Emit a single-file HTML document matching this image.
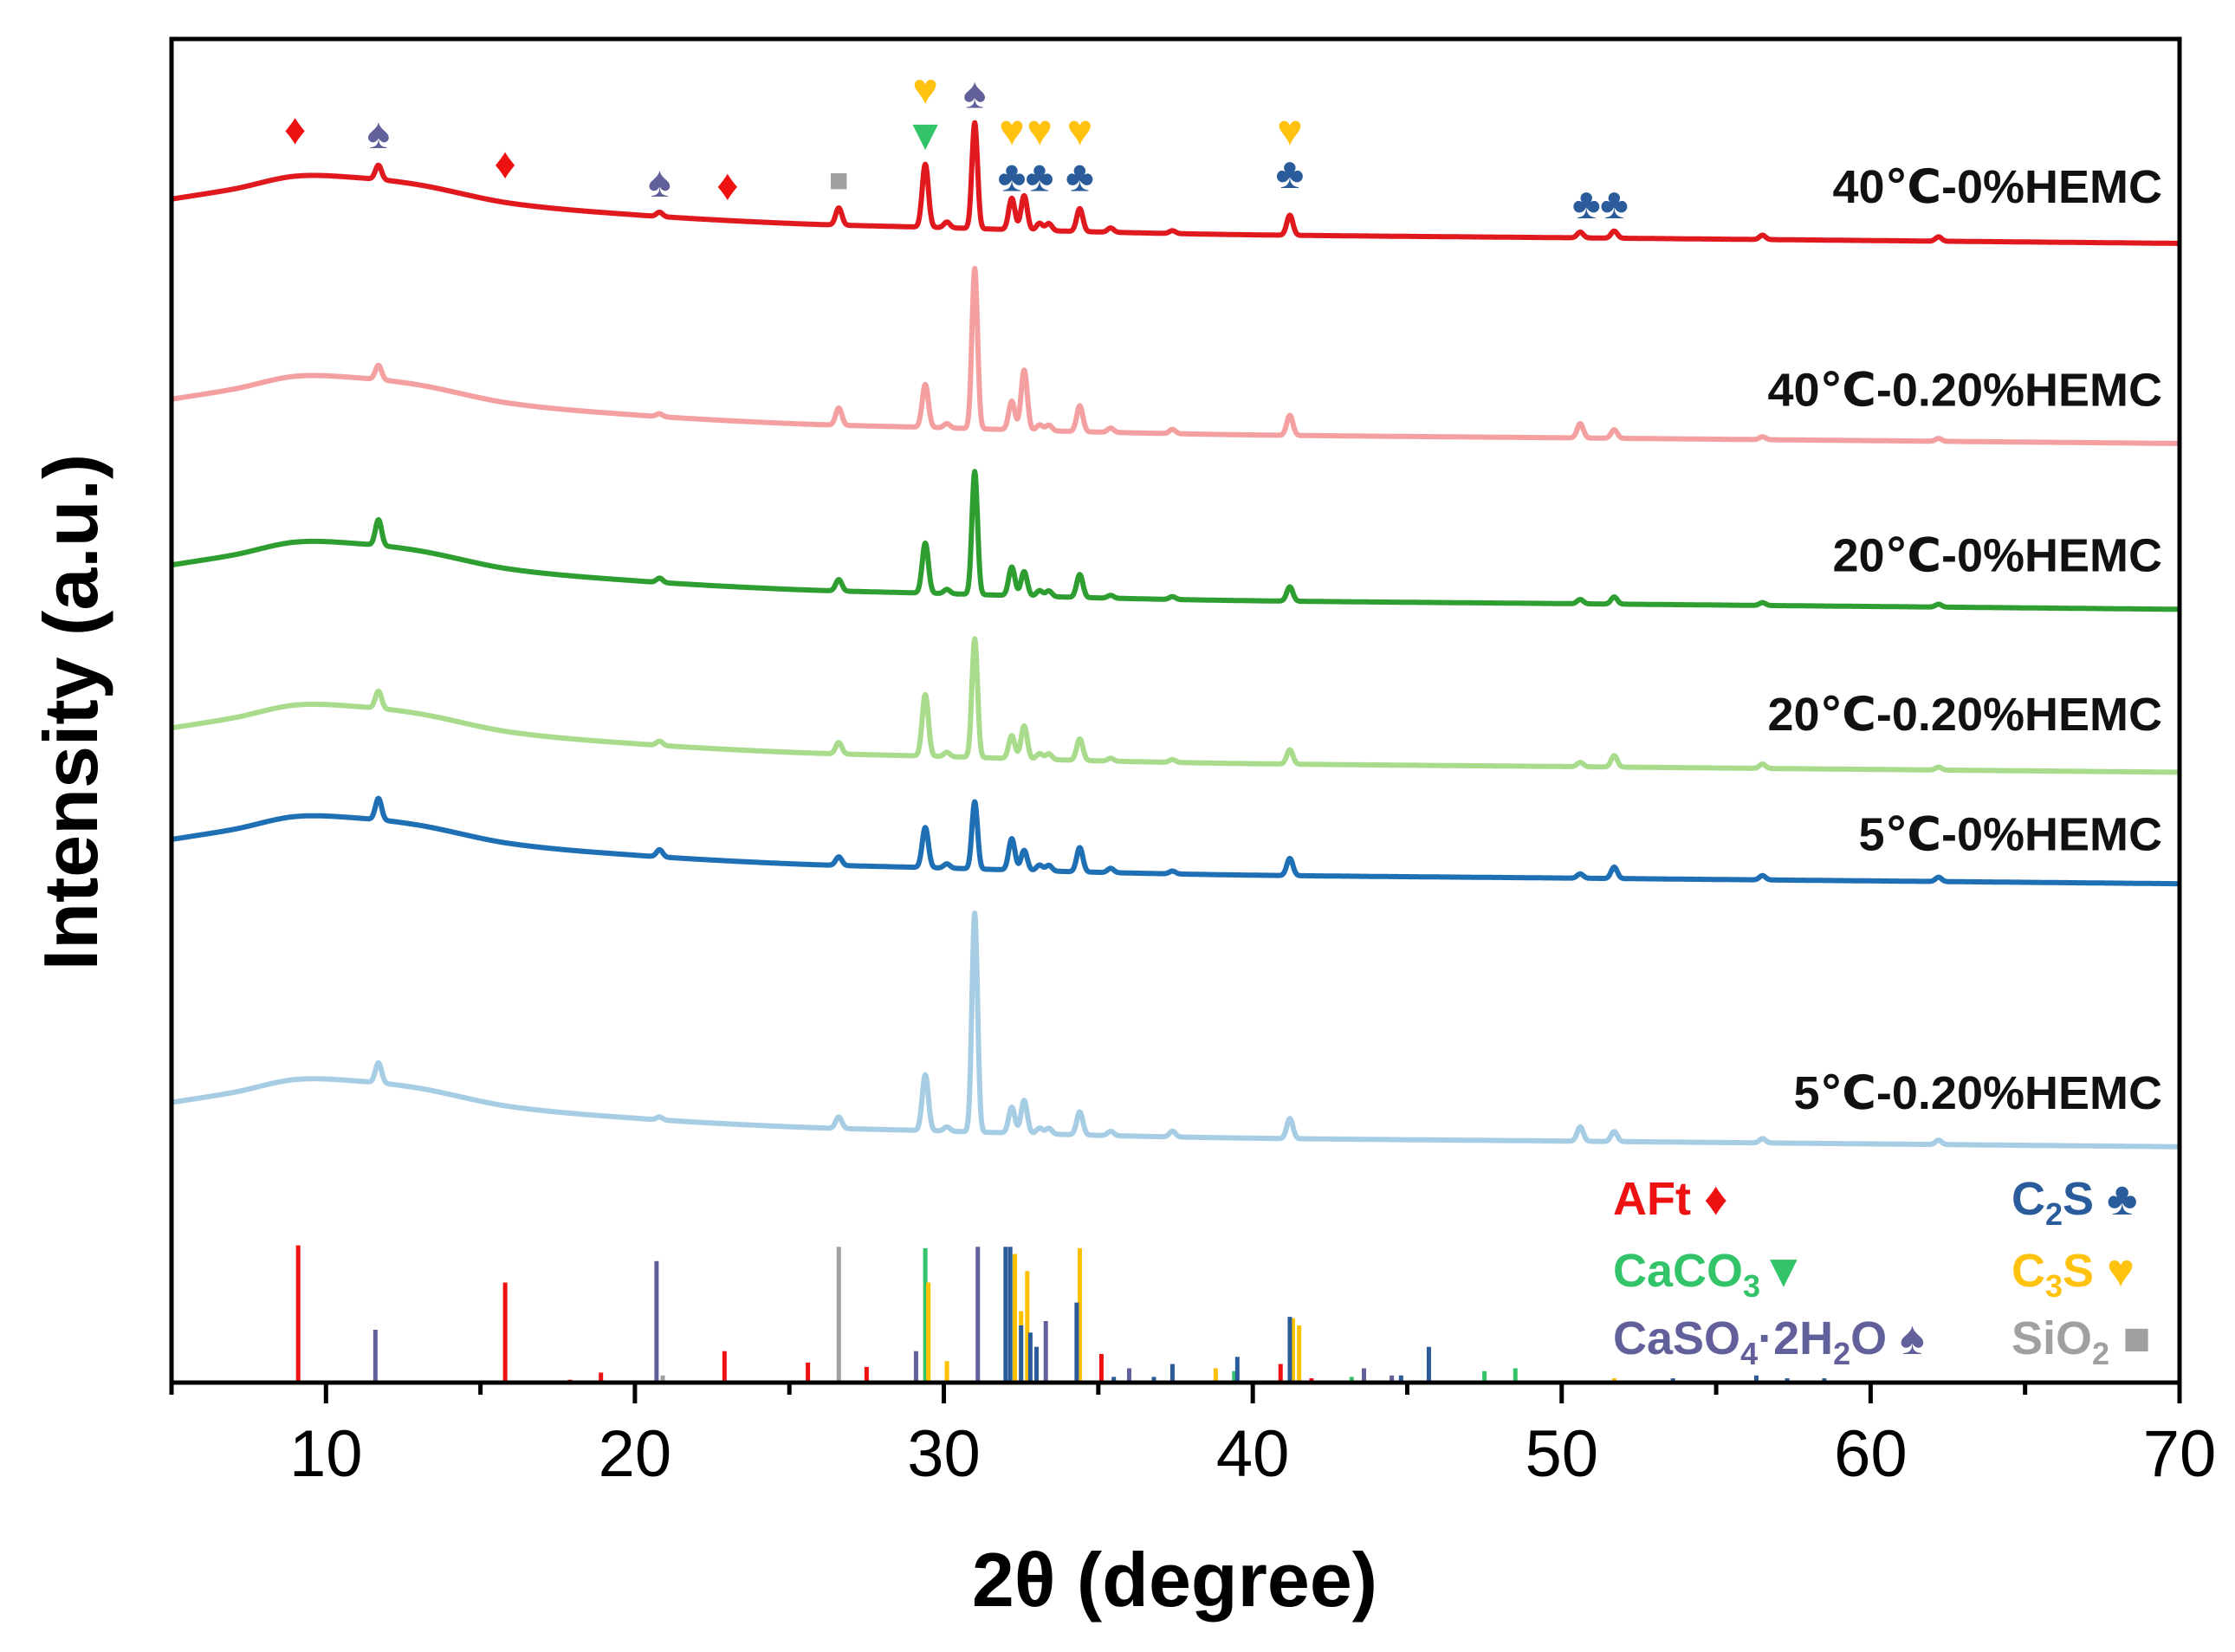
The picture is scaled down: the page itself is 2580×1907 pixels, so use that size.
<!DOCTYPE html>
<html><head><meta charset="utf-8"><style>
html,body{margin:0;padding:0;background:#fff}
svg{display:block}
text{font-family:"Liberation Sans","DejaVu Sans",sans-serif}
</style></head><body>
<svg id="chart" width="2580" height="1907" viewBox="0 0 2580 1907" xmlns="http://www.w3.org/2000/svg">
<g id="sticks"></g>
<g id="series"></g>
<g id="marks"></g>
<g id="labels"></g>
<g id="axes"></g>
<g id="legend" font-weight="bold" font-size="54">
 <text x="1862" y="1402" fill="#ee1111">AFt ♦</text>
 <text x="1862" y="1485" fill="#33c46a">CaCO<tspan font-size="36" dy="12">3</tspan><tspan dy="-12">▼</tspan></text>
 <text x="1862" y="1563" fill="#62609a">CaSO<tspan font-size="36" dy="12">4</tspan><tspan dy="-12">·2H</tspan><tspan font-size="36" dy="12">2</tspan><tspan dy="-12">O ♠</tspan></text>
 <text x="2322" y="1402" fill="#2a5b9a">C<tspan font-size="36" dy="12">2</tspan><tspan dy="-12">S ♣</tspan></text>
 <text x="2322" y="1485" fill="#ffc20e">C<tspan font-size="36" dy="12">3</tspan><tspan dy="-12">S ♥</tspan></text>
 <text x="2322" y="1563" fill="#a0a0a0">SiO<tspan font-size="36" dy="12">2</tspan><tspan dy="-12"> ■</tspan></text>
</g>
</svg>
<script>
// ---- data ----
const seriesNames = ["40℃-0%HEMC","40℃-0.20%HEMC","20℃-0%HEMC","20℃-0.20%HEMC","5℃-0%HEMC","5℃-0.20%HEMC"];
const seriesColors = ["#e0191f","#f4a0a0","#2e9e31","#a8dc8c","#1f6fb4","#a6cde3"];
const seriesEndLevel = [797,657,541,427,349,165];
const humpX = [5,7,9,11,13,16,20,25,30,35,40,50,60,70];
const humpY = [31,38,47,46,41,28,20,14,11,8,6,4,2,0];
const peakPos = [11.7,20.8,26.6,29.4,30.1,31.0,32.2,32.6,33.1,33.4,34.4,35.4,37.4,41.2,50.6,51.7,56.5,62.2];
const peakH = [
 [10,3,12,44,4,74,22,24,5,5,16,3,2,14,4,5,3,3],
 [10,2,12,30,3,112,20,42,4,4,18,3,3,14,10,6,2,2],
 [18,3,8,35,3,86,20,17,4,4,16,2,2,10,3,5,2,2],
 [12,3,8,43,3,83,16,23,4,4,15,2,2,10,3,8,3,2],
 [15,5,6,28,3,47,22,14,4,4,17,3,2,12,3,8,3,3],
 [14,2,8,39,3,153,18,23,4,4,16,3,4,14,10,7,3,3]
];
const labelLevel = [837,695,579,468,384,203];
const stickPhases = ["AFt","CaSO4","SiO2","CaCO3","C3S","C2S"];
const stickColors = ["#ee1111","#62609a","#a0a0a0","#33c46a","#ffc000","#2a5b9a"];
const stickPos = [
 [9.1,15.8,17.9,18.9,22.9,25.6,27.5,35.1,40.9,41.9],
 [11.6,20.7,29.1,31.1,33.3,36.0,43.6,44.5],
 [26.6,20.9],
 [29.4,39.4,43.2,47.5,48.5],
 [29.5,30.1,32.3,32.5,32.7,34.4,38.8,41.3,41.5,51.7],
 [32.0,32.15,32.5,32.8,33.0,34.3,35.5,36.8,37.4,39.5,41.2,44.8,45.7,53.6,56.3,57.3,58.5]
];
const stickH = [
 [96,70,2,7,22,14,11,20,13,3],
 [37,85,22,95,43,10,10,5],
 [95,5],
 [94,8,4,8,10],
 [70,15,90,50,78,94,10,45,40,3],
 [95,95,40,35,25,56,4,4,13,18,46,5,25,3,5,3,3]
];
const markSym = ["♦","♠","♦","♠","♦","■","▼","♥","♠","♥","♥","♥","♣","♣","♣","♥","♣","♣","♣"];
const markX = [9,11.7,15.8,20.8,23,26.6,29.4,29.4,31,32.2,33.1,34.4,32.2,33.1,34.4,41.2,41.2,50.8,51.7];
const markY = [877,874,853,840,838,844,873,905,902,876,876,876,844,844,844,876,846,825,825];
const markColorIdx = [0,1,0,1,0,2,3,4,1,4,4,4,5,5,5,4,5,5,5];
const xTicks = [10,20,30,40,50,60,70];
// ---- axes ----
const L=198,R=2516,T=45,B=1596,S=1.65;
const xs = v => L + (v-5)/(70-5)*(R-L);
const ys = v => B - v*S;
const NS="http://www.w3.org/2000/svg";
function mk(tag,parent,attrs){const e=document.createElementNS(NS,tag);for(const k in attrs)e.setAttribute(k,attrs[k]);parent.appendChild(e);return e;}
function hump(x){
 let i=0;while(i<humpX.length-2&&x>humpX[i+1])i++;
 const t=Math.min(1,Math.max(0,(x-humpX[i])/(humpX[i+1]-humpX[i])));
 const p0=humpY[Math.max(0,i-1)],p1=humpY[i],p2=humpY[i+1],p3=humpY[Math.min(humpY.length-1,i+2)];
 const h0=humpX[Math.max(0,i-1)],h1=humpX[i],h2=humpX[i+1],h3=humpX[Math.min(humpX.length-1,i+2)];
 const m1=(p2-p0)/Math.max(h2-h0,1e-6)*(h2-h1), m2=(p3-p1)/Math.max(h3-h1,1e-6)*(h2-h1);
 const t2=t*t,t3=t2*t;
 return (2*t3-3*t2+1)*p1+(t3-2*t2+t)*m1+(-2*t3+3*t2)*p2+(t3-t2)*m2;
}
const gS=document.getElementById('series');
for(let s=0;s<seriesNames.length;s++){
 let d="";
 for(let x=5;x<=70.0001;x+=0.02){
  let v=seriesEndLevel[s]+hump(x);
  for(let p=0;p<peakPos.length;p++){const w=(peakPos[p]===31.0)?0.09:0.1;v+=peakH[s][p]*Math.exp(-Math.pow((x-peakPos[p])/w,2)/2);}
  d+=(d?"L":"M")+xs(x).toFixed(1)+","+ys(v).toFixed(1);
 }
 const p=mk('path',gS,{d:d,fill:"none",stroke:seriesColors[s],"stroke-width":6,"stroke-linejoin":"round"});
 
 
 const t=mk('text',document.getElementById('labels'),{x:2496,y:(ys(labelLevel[s])+19).toFixed(1),"text-anchor":"end","font-size":54,"font-weight":"bold",fill:"#111"});
 t.textContent=seriesNames[s];
 
 
}
const gK=document.getElementById('sticks');
for(let i=0;i<stickPhases.length;i++){
 for(let j=0;j<stickPos[i].length;j++){
  const l=mk('line',gK,{x1:xs(stickPos[i][j]),x2:xs(stickPos[i][j]),y1:B,y2:ys(stickH[i][j]),stroke:stickColors[i],"stroke-width":5});
  
  
 }
}
const markColors=["#ee1111","#62609a","#a0a0a0","#33c46a","#ffc20e","#2a5b9a"];
const gM=document.getElementById('marks');
for(let i=0;i<markSym.length;i++){
 const t=mk('text',gM,{x:xs(markX[i]),y:ys(markY[i])+17,"text-anchor":"middle","font-size":markSym[i]==="■"?38:50,fill:markColors[markColorIdx[i]]});
 t.textContent=markSym[i];
 
 
}
const gA=document.getElementById('axes');
const fr=mk('rect',gA,{x:L,y:T,width:R-L,height:B-T,fill:"none",stroke:"#000","stroke-width":5});


for(let v=5;v<=70;v+=5){
 const major=v%10===0;
 const tk=mk('line',gA,{x1:xs(v),x2:xs(v),y1:B,y2:B+(major?24:14),stroke:"#000","stroke-width":5});
 
 
}
for(const v of xTicks){
 const t=mk('text',gA,{x:xs(v),y:1704,"text-anchor":"middle","font-size":76,fill:"#000"});
 t.textContent=v;
 
 
}
const xt=mk('text',gA,{x:1356,y:1854,"text-anchor":"middle","font-size":88,"font-weight":"bold",fill:"#000"});
xt.textContent="2θ (degree)";


const yt=mk('text',gA,{x:0,y:0,"text-anchor":"middle","font-size":88,"font-weight":"bold",fill:"#000",transform:"translate(112,822) rotate(-90)"});
yt.textContent="Intensity (a.u.)";


</script>
</body></html>
